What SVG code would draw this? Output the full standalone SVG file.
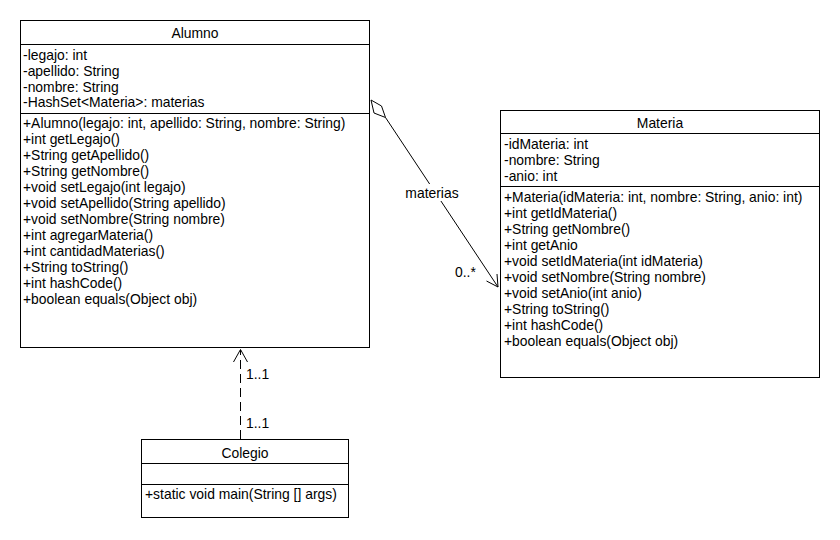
<svg xmlns="http://www.w3.org/2000/svg" width="840" height="540" viewBox="0 0 840 540">
  <style>
    .box { fill: #ffffff; stroke: #000000; stroke-width: 1; }
    .sep { stroke: #000000; stroke-width: 1; }
    text { font-family: "Liberation Sans", Arial, sans-serif; font-size: 13.9px; fill: #000000; }
    .title { text-anchor: middle; }
    .conn { fill: none; stroke: #000000; stroke-width: 1; }
    .dash { stroke-dasharray: 9 5; }
  </style>
  <rect width="840" height="540" fill="#ffffff"/>

  <g id="connectors">
    <!-- Alumno aggregates Materia -->
    <path class="conn" d="M385.5,117.5 L498,287"/>
    <path class="conn" d="M371,100 L381.5,106 L385.5,117.5 L374,113 Z" fill="#ffffff"/>
    <path class="conn" d="M486.5,281 L498,287 L497,274"/>
    <rect x="402" y="184" width="62" height="17" fill="#ffffff"/>
    <text x="432" y="197.5" class="title">materias</text>
    <text x="455" y="276.5">0..*</text>

    <!-- Colegio depends on Alumno -->
    <path class="conn dash" d="M240.5,439 L240.5,350"/>
    <path class="conn" d="M233.5,362 L240.5,349.5 L247.5,362"/>
    <text x="246" y="378.5">1..1</text>
    <text x="246" y="427.5">1..1</text>
  </g>

  <g id="Alumno">
    <rect class="box" x="20.5" y="20.5" width="349" height="327"/>
    <line class="sep" x1="20" y1="44.5" x2="370" y2="44.5"/>
    <line class="sep" x1="20" y1="113.5" x2="370" y2="113.5"/>
    <text x="195" y="38" class="title">Alumno</text>
    <text x="23" y="60">-legajo: int</text>
    <text x="23" y="75.5">-apellido: String</text>
    <text x="23" y="91.5">-nombre: String</text>
    <text x="23" y="107">-HashSet&lt;Materia&gt;: materias</text>
    <text x="23" y="128">+Alumno(legajo: int, apellido: String, nombre: String)</text>
    <text x="23" y="144">+int getLegajo()</text>
    <text x="23" y="160">+String getApellido()</text>
    <text x="23" y="176">+String getNombre()</text>
    <text x="23" y="192">+void setLegajo(int legajo)</text>
    <text x="23" y="208">+void setApellido(String apellido)</text>
    <text x="23" y="224">+void setNombre(String nombre)</text>
    <text x="23" y="240">+int agregarMateria()</text>
    <text x="23" y="256">+int cantidadMaterias()</text>
    <text x="23" y="272">+String toString()</text>
    <text x="23" y="288">+int hashCode()</text>
    <text x="23" y="304">+boolean equals(Object obj)</text>
  </g>

  <g id="Materia">
    <rect class="box" x="500.5" y="110.5" width="319" height="267"/>
    <line class="sep" x1="500" y1="133.5" x2="820" y2="133.5"/>
    <line class="sep" x1="500" y1="186.5" x2="820" y2="186.5"/>
    <text x="660" y="128" class="title">Materia</text>
    <text x="504" y="149">-idMateria: int</text>
    <text x="504" y="165">-nombre: String</text>
    <text x="504" y="181">-anio: int</text>
    <text x="504" y="202">+Materia(idMateria: int, nombre: String, anio: int)</text>
    <text x="504" y="218">+int getIdMateria()</text>
    <text x="504" y="234">+String getNombre()</text>
    <text x="504" y="250">+int getAnio</text>
    <text x="504" y="266">+void setIdMateria(int idMateria)</text>
    <text x="504" y="282">+void setNombre(String nombre)</text>
    <text x="504" y="298">+void setAnio(int anio)</text>
    <text x="504" y="314">+String toString()</text>
    <text x="504" y="330">+int hashCode()</text>
    <text x="504" y="346">+boolean equals(Object obj)</text>
  </g>

  <g id="Colegio">
    <rect class="box" x="141.5" y="439.5" width="207" height="78"/>
    <line class="sep" x1="141" y1="463.5" x2="349" y2="463.5"/>
    <line class="sep" x1="141" y1="484.5" x2="349" y2="484.5"/>
    <text x="245" y="458" class="title">Colegio</text>
    <text x="145" y="499">+static void main(String [] args)</text>
  </g>
</svg>
